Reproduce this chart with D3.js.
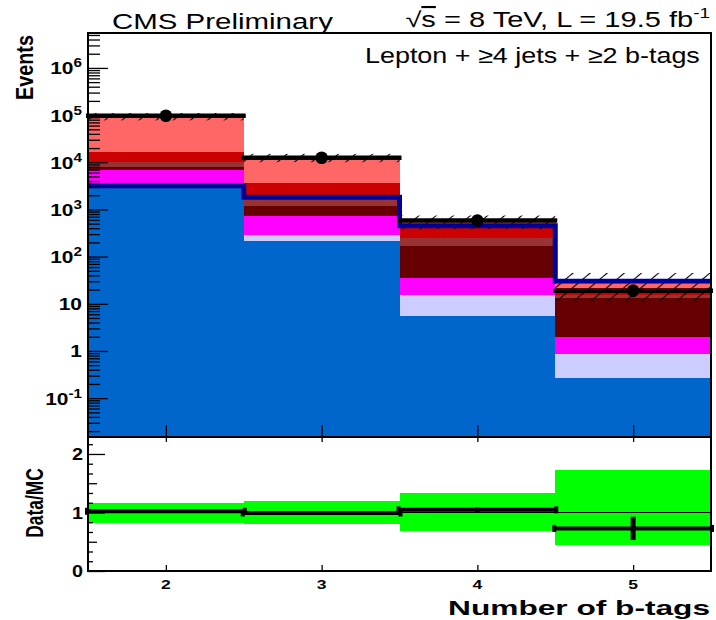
<!DOCTYPE html>
<html><head><meta charset="utf-8">
<script src="https://cdn.jsdelivr.net/npm/d3@7"></script>
<style>
body{margin:0;background:#fff;}
svg{display:block;}
text{font-family:"Liberation Sans",Arial,Helvetica,sans-serif;fill:#000;}
</style></head><body>
<svg id="c" width="716" height="620"></svg>
<script>
// ---------------- data ----------------
const bins = [2, 3, 4, 5];
const binEdges = [1.5, 2.5, 3.5, 4.5, 5.5];
const seriesNames = ["EWK", "ttV", "Single t", "tt+bb", "tt+b", "tt+cc", "tt+lf"];
const seriesColors = ["#0066cc", "#ccccff", "#ff00ff", "#660000", "#993333", "#cc0000", "#ff6666"];
const ewk      = [3280, 216, 5.5, 0.262];
const ttv      = [160, 70, 9.8, 0.583];
const singleT  = [3380, 437, 20.3, 1.095];
const ttbb     = [1210, 455, 131, 11.06];
const ttb      = [2210, 622, 76, 2.3];
const ttcc     = [6460, 1870, 153, 6.2];
const ttlf     = [78300, 8930, 164, 4.6];
const signal   = [3170, 1810, 450, 30];
const dataVals = [97000, 12500, 585, 19];
const dataErr  = [311, 112, 24, 5.2];
const bandLo   = [0.815, 0.798, 0.684, 0.444];
const bandHi   = [1.168, 1.197, 1.328, 1.726];
const yTickExp = [-1, 0, 1, 2, 3, 4, 5, 6];
const ratioTicks = [0, 1, 2];
const xTicks = [2, 3, 4, 5];

const seriesData = [ewk, ttv, singleT, ttbb, ttb, ttcc, ttlf];

// ---------------- setup ----------------
const svg = d3.select("#c");
const L = 88, R = 711, T = 33, MID = 437, B = 571;
const x = d3.scaleLinear().domain([1.5, 5.5]).range([L, R]);
const y = d3.scaleLog().domain([0.015, 5.5e6]).range([MID, T]).clamp(true);
const yr = d3.scaleLinear().domain([0, 2.29]).range([B, MID]);

const defs = svg.append("defs");
const pat = defs.append("pattern").attr("id", "hatch")
  .attr("patternUnits", "userSpaceOnUse").attr("width", 11).attr("height", 11)
  .attr("patternTransform", "rotate(50)");
pat.append("line").attr("x1", 5.5).attr("x2", 5.5).attr("y1", -1).attr("y2", 12)
  .attr("stroke", "#000").attr("stroke-width", 1.1);

const rows = bins.map((b, i) => {
  const r = {bin: b, i: i};
  seriesNames.forEach((n, k) => r[n] = seriesData[k][i]);
  return r;
});
const stacked = d3.stack().keys(seriesNames)(rows);
const total = bins.map((b, i) => d3.sum(seriesData, s => s[i]));

// ---------------- top panel ----------------
const topG = svg.append("g");
stacked.forEach((layer, k) => {
  topG.append("g").attr("shape-rendering", "crispEdges")
    .selectAll("rect").data(layer).join("rect")
    .attr("x", (d, i) => x(binEdges[i]))
    .attr("width", (d, i) => x(binEdges[i + 1]) - x(binEdges[i]) + (i < bins.length - 1 ? 0.6 : 0))
    .attr("y", d => y(d[1]))
    .attr("height", d => y(Math.max(d[0], 1e-3)) - y(d[1]))
    .attr("fill", seriesColors[k]);
});

// MC uncertainty hatch
topG.append("g").selectAll("rect").data(bins).join("rect")
  .attr("x", (d, i) => x(binEdges[i]))
  .attr("width", (d, i) => x(binEdges[i + 1]) - x(binEdges[i]))
  .attr("y", (d, i) => y(total[i] * bandHi[i]))
  .attr("height", (d, i) => y(total[i] * bandLo[i]) - y(total[i] * bandHi[i]))
  .attr("fill", "url(#hatch)");

// signal line
const sigPts = binEdges.map((e, i) => [e, signal[Math.min(i, signal.length - 1)]]);
topG.append("path").datum(sigPts)
  .attr("d", d3.line().x(d => x(d[0])).y(d => y(d[1])).curve(d3.curveStepAfter))
  .attr("fill", "none").attr("stroke", "#000099").attr("stroke-width", 5)
  .attr("stroke-linejoin", "miter");

// axes ticks (top panel)
function cleanAxis(g) {
  g.select(".domain").remove();
  g.selectAll("text").remove();
  g.selectAll("line").attr("stroke", "#000").attr("stroke-width", 1.3);
}
const yMajor = yTickExp.map(e => Math.pow(10, e));
const yMinor = [];
for (let k = -2; k <= 6; k++) for (let m = 2; m <= 9; m++) {
  const v = m * Math.pow(10, k);
  if (v >= 0.015 && v <= 5.5e6) yMinor.push(v);
}
topG.append("g").attr("transform", `translate(${L},0)`)
  .call(d3.axisRight(y).tickValues(yMinor).tickSize(12).tickFormat("")).call(cleanAxis);
topG.append("g").attr("transform", `translate(${L},0)`)
  .call(d3.axisRight(y).tickValues(yMajor).tickSize(20).tickFormat("")).call(cleanAxis);
topG.append("g").attr("transform", `translate(0,${MID})`)
  .call(d3.axisTop(x).tickValues(xTicks).tickSize(12).tickFormat("")).call(cleanAxis);

// data
const dg = topG.append("g");
bins.forEach((b, i) => {
  dg.append("line").attr("x1", x(binEdges[i]) - 2).attr("x2", x(binEdges[i + 1]) + 2)
    .attr("y1", y(dataVals[i])).attr("y2", y(dataVals[i]))
    .attr("stroke", "#000").attr("stroke-width", 4.5);
  dg.append("line").attr("x1", x(b)).attr("x2", x(b))
    .attr("y1", y(dataVals[i] - dataErr[i])).attr("y2", y(dataVals[i] + dataErr[i]))
    .attr("stroke", "#000").attr("stroke-width", 4.5);
  dg.append("circle").attr("cx", x(b)).attr("cy", y(dataVals[i])).attr("r", 6.3).attr("fill", "#000");
});

topG.append("rect").attr("x", L).attr("y", T).attr("width", R - L).attr("height", MID - T)
  .attr("fill", "none").attr("stroke", "#000").attr("stroke-width", 2);

// ---------------- ratio panel ----------------
const rp = svg.append("g");
rp.append("g").attr("shape-rendering", "crispEdges")
  .selectAll("rect").data(bins).join("rect")
  .attr("x", (d, i) => x(binEdges[i]))
  .attr("width", (d, i) => x(binEdges[i + 1]) - x(binEdges[i]))
  .attr("y", (d, i) => yr(bandHi[i]))
  .attr("height", (d, i) => yr(bandLo[i]) - yr(bandHi[i]))
  .attr("fill", "#00ff00");
rp.append("line").attr("x1", x(1.5)).attr("x2", x(5.5)).attr("y1", yr(1)).attr("y2", yr(1))
  .attr("stroke", "#000").attr("stroke-width", 1.2);

const rg = rp.append("g");
bins.forEach((b, i) => {
  const r = dataVals[i] / total[i];
  const e = dataErr[i] / total[i];
  const x1 = x(binEdges[i]) - 1, x2 = x(binEdges[i + 1]) + 1;
  rg.append("line").attr("x1", x1).attr("x2", x2).attr("y1", yr(r)).attr("y2", yr(r))
    .attr("stroke", "#000").attr("stroke-width", 4);
  rg.append("line").attr("x1", x(b)).attr("x2", x(b)).attr("y1", yr(r - e)).attr("y2", yr(r + e))
    .attr("stroke", "#000").attr("stroke-width", 5);
  [x1, x2].forEach(xx => rg.append("rect").attr("x", xx - 2).attr("y", yr(r) - 3.5)
    .attr("width", 4).attr("height", 7).attr("fill", "#000"));
});

const rMinor = [], rMed = [0.5, 1.5];
for (let k = 0; k <= 13; k++) {
  const v = k / 6;
  if (Math.abs(v - Math.round(v * 2) / 2) > 1e-6) rMinor.push(v);
}
rp.append("g").attr("transform", `translate(${L},0)`)
  .call(d3.axisRight(yr).tickValues(rMinor).tickSize(5).tickFormat("")).call(cleanAxis);
rp.append("g").attr("transform", `translate(${L},0)`)
  .call(d3.axisRight(yr).tickValues(rMed).tickSize(9).tickFormat("")).call(cleanAxis);
rp.append("g").attr("transform", `translate(${L},0)`)
  .call(d3.axisRight(yr).tickValues(ratioTicks).tickSize(17).tickFormat("")).call(cleanAxis);
rp.append("g").attr("transform", `translate(0,${MID})`)
  .call(d3.axisBottom(x).tickValues(xTicks).tickSize(5).tickFormat("")).call(cleanAxis);
rp.append("g").attr("transform", `translate(0,${B})`)
  .call(d3.axisTop(x).tickValues(xTicks).tickSize(6).tickFormat("")).call(cleanAxis);

rp.append("rect").attr("x", L).attr("y", MID).attr("width", R - L).attr("height", B - MID)
  .attr("fill", "none").attr("stroke", "#000").attr("stroke-width", 2);

// ---------------- text ----------------
function stretch(sel, sx) {
  const ax = +sel.attr("x"), ay = +sel.attr("y");
  sel.attr("transform", `translate(${ax},${ay}) scale(${sx},1) translate(${-ax},${-ay})`);
}
function fitW(sel, w) {
  const bw = sel.node().getBBox().width;
  stretch(sel, w / bw);
}
const tg = svg.append("g");

// y tick labels
yTickExp.forEach(e => {
  const t = tg.append("text").attr("x", 82).attr("y", y(Math.pow(10, e)) + 6.5)
    .attr("text-anchor", "end").attr("font-weight", "bold").attr("font-size", 16.5);
  if (e === 0) t.text("1");
  else if (e === 1) t.text("10");
  else {
    t.append("tspan").text("10");
    t.append("tspan").attr("font-size", 12).attr("dy", -7).text(String(e));
  }
  stretch(t, 1.27);
});
ratioTicks.forEach(v => {
  const t = tg.append("text").attr("x", 83).attr("y", yr(v) + 6.5)
    .attr("text-anchor", "end").attr("font-weight", "bold").attr("font-size", 16.5).text(String(v));
  stretch(t, 1.2);
});
xTicks.forEach(v => {
  const t = tg.append("text").attr("x", x(v)).attr("y", 589)
    .attr("text-anchor", "middle").attr("font-weight", "bold").attr("font-size", 13).text(String(v));
  stretch(t, 1.35);
});

// titles
const t1 = tg.append("text").attr("x", 112).attr("y", 29).attr("font-size", 22).text("CMS Preliminary");
fitW(t1, 221);

const t2 = tg.append("text").attr("x", 710).attr("y", 27).attr("font-size", 21.5).attr("text-anchor", "end");
t2.append("tspan").text("\u221A");
t2.append("tspan").attr("text-decoration", "overline").text("s");
t2.append("tspan").text(" = 8 TeV, L = 19.5 fb");
t2.append("tspan").attr("font-size", 14).attr("dy", -9).text("-1");
fitW(t2, 305);

const t3 = tg.append("text").attr("x", 365).attr("y", 63).attr("font-size", 22)
  .text("Lepton + \u22654 jets + \u22652 b-tags");
fitW(t3, 335);

const t4 = tg.append("text").attr("x", 710).attr("y", 615).attr("font-size", 21)
  .attr("font-weight", "bold").attr("text-anchor", "end").text("Number of b-tags");
fitW(t4, 262);

function rotText(str, cx, cy, size, len, sx) {
  const t = tg.append("text").attr("font-size", size).attr("font-weight", "bold")
    .attr("text-anchor", "middle").text(str);
  const w = t.node().getBBox().width;
  t.attr("transform", `translate(${cx},${cy}) scale(${sx},${len / w}) rotate(-90)`);
  return t;
}
rotText("Events", 33, 67.5, 20, 65, 1.2);
rotText("Data/MC", 43, 503, 17.5, 70, 1.35);
</script>
</body></html>
